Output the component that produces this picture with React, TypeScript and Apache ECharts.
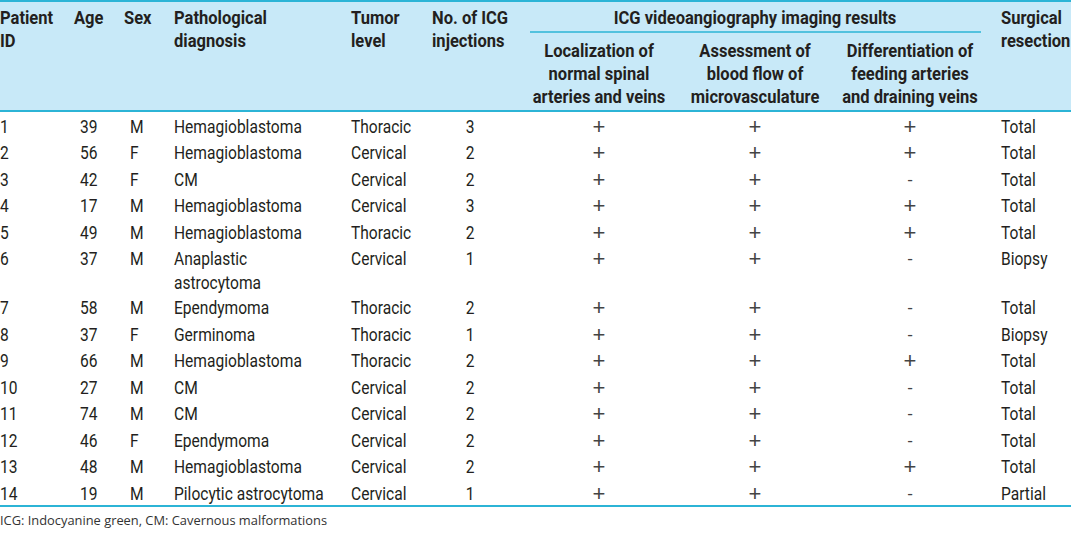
import React, { useEffect, useRef } from "react";
import * as echarts from "echarts";

const headerTop = ["Patient\nID", "Age", "Sex", "Pathological\ndiagnosis", "Tumor\nlevel", "No. of ICG\ninjections"];
const groupHeader = "ICG videoangiography imaging results";
const subHeaders = [
  "Localization of\nnormal spinal\narteries and veins",
  "Assessment of\nblood flow of\nmicrovasculature",
  "Differentiation of\nfeeding arteries\nand draining veins",
];
const lastHeader = "Surgical\nresection";

const patientIds = ["1", "2", "3", "4", "5", "6", "7", "8", "9", "10", "11", "12", "13", "14"];
const ages = ["39", "56", "42", "17", "49", "37", "58", "37", "66", "27", "74", "46", "48", "19"];
const sexes = ["M", "F", "F", "M", "M", "M", "M", "F", "M", "M", "M", "F", "M", "M"];
const diagnoses = [
  "Hemagioblastoma", "Hemagioblastoma", "CM", "Hemagioblastoma", "Hemagioblastoma",
  "Anaplastic\nastrocytoma", "Ependymoma", "Germinoma", "Hemagioblastoma", "CM", "CM",
  "Ependymoma", "Hemagioblastoma", "Pilocytic astrocytoma",
];
const levels = [
  "Thoracic", "Cervical", "Cervical", "Cervical", "Thoracic", "Cervical", "Thoracic",
  "Thoracic", "Thoracic", "Cervical", "Cervical", "Cervical", "Cervical", "Cervical",
];
const injections = ["3", "2", "2", "3", "2", "1", "2", "1", "2", "2", "2", "2", "2", "1"];
const localization = ["+", "+", "+", "+", "+", "+", "+", "+", "+", "+", "+", "+", "+", "+"];
const assessment = ["+", "+", "+", "+", "+", "+", "+", "+", "+", "+", "+", "+", "+", "+"];
const differentiation = ["+", "+", "-", "+", "+", "-", "-", "-", "+", "-", "-", "-", "+", "-"];
const resections = [
  "Total", "Total", "Total", "Total", "Total", "Biopsy", "Total", "Biopsy", "Total",
  "Total", "Total", "Total", "Total", "Partial",
];
const footnote = "ICG: Indocyanine green, CM: Cavernous malformations";

const FONT = "Roboto, 'Liberation Sans', sans-serif";
const SX = 0.82;
const SXH = 0.87;
const TEXT = "#231f20";
const LINE = "#2cb4d6";
const HEAD_BG = "#c8e9f8";

function txt(text: string, x: number, y: number, opts: any = {}) {
  const align = opts.align || "left";
  const va = opts.va || "middle";
  return {
    type: "text",
    x,
    y,
    scaleX: opts.sx == null ? SX : opts.sx,
    silent: true,
    style: {
      text,
      x: 0,
      y: 0,
      fill: opts.fill || TEXT,
      fontFamily: opts.family || FONT,
      fontSize: opts.size || 19,
      fontWeight: opts.weight || "normal",
      lineHeight: opts.lh || 23,
      align,
      verticalAlign: va,
      textAlign: align,
      textVerticalAlign: va,
    },
  };
}

export default function App() {
  const ref = useRef<HTMLDivElement>(null);
  useEffect(() => {
    document.body.style.margin = "0";
    const chart = echarts.init(ref.current!, undefined, { renderer: "svg" });
    const els: any[] = [];
    els.push({ type: "rect", shape: { x: 0, y: 0, width: 1071, height: 111 }, style: { fill: HEAD_BG }, silent: true });
    els.push({ type: "line", shape: { x1: 0, y1: 1, x2: 1071, y2: 1 }, style: { stroke: LINE, lineWidth: 2 }, silent: true });
    els.push({ type: "line", shape: { x1: 0, y1: 111, x2: 1071, y2: 111 }, style: { stroke: LINE, lineWidth: 2 }, silent: true });
    els.push({ type: "line", shape: { x1: 530, y1: 32, x2: 981, y2: 32 }, style: { stroke: LINE, lineWidth: 1.5 }, silent: true });
    els.push({ type: "line", shape: { x1: 0, y1: 506, x2: 1071, y2: 506 }, style: { stroke: LINE, lineWidth: 2 }, silent: true });

    const hOpts = { weight: "bold", va: "top", sx: SXH };
    const headX = [0, 74, 124, 174, 351, 432];
    headerTop.forEach((h, i) => {
      els.push(txt(h, headX[i], 6, hOpts));
    });
    els.push(txt(groupHeader, 755, 6, { ...hOpts, align: "center" }));
    const subX = [599, 755, 910];
    subHeaders.forEach((h, i) => {
      els.push(txt(h, subX[i], 39, { ...hOpts, align: "center" }));
    });
    els.push(txt(lastHeader, 1001, 6, hOpts));

    const mark = (s: string, x: number, y: number) =>
      txt(s, x, y, {
        align: "center",
        family: "'Liberation Sans', sans-serif",
        size: s === "+" ? 22 : 17,
        sx: 1,
        fill: "#444",
      });
    let y = 126;
    for (let i = 0; i < patientIds.length; i++) {
      const twoLine = diagnoses[i].includes("\n");
      els.push(txt(patientIds[i], 0, y));
      els.push(txt(ages[i], 80, y));
      els.push(txt(sexes[i], 130, y));
      els.push(txt(diagnoses[i], 174, twoLine ? y - 12 : y, twoLine ? { va: "top", lh: 24 } : {}));
      els.push(txt(levels[i], 351, y));
      els.push(txt(injections[i], 470, y, { align: "center" }));
      els.push(mark(localization[i], subX[0], y));
      els.push(mark(assessment[i], subX[1], y));
      els.push(mark(differentiation[i], subX[2], y));
      els.push(txt(resections[i], 1001, y));
      y += twoLine ? 49 : 26.5;
    }

    els.push(txt(footnote, 0, 520, { family: "'Open Sans', sans-serif", size: 13, fill: "#333", sx: 0.99 }));

    chart.setOption({ animation: false, graphic: { elements: els } });
    return () => chart.dispose();
  }, []);
  return <div ref={ref} style={{ width: 1071, height: 534 }} />;
}
